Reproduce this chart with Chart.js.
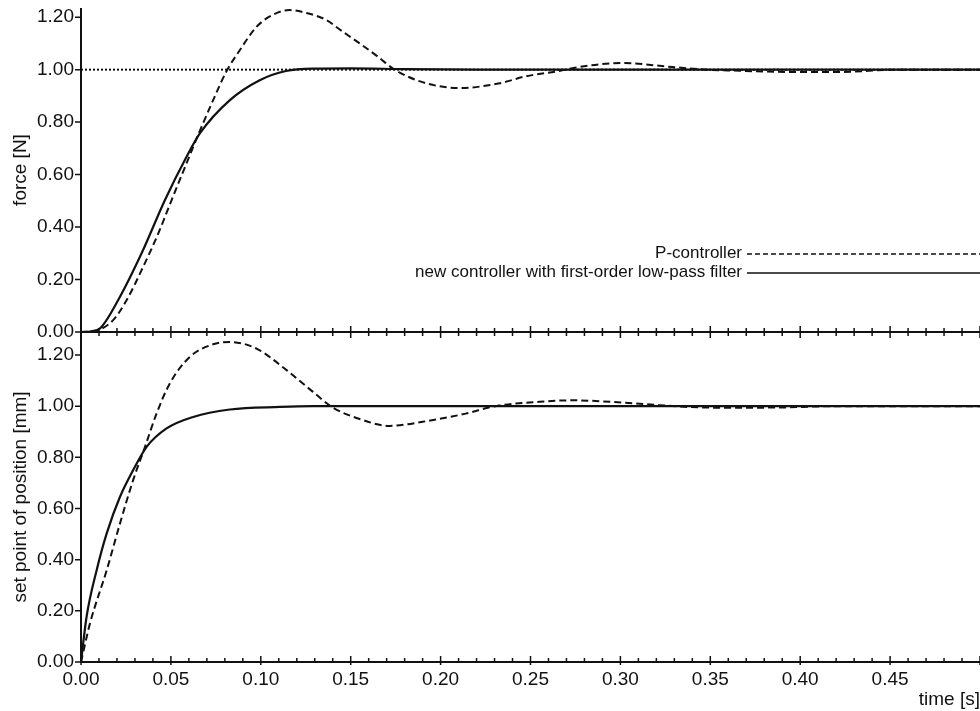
<!DOCTYPE html>
<html>
<head>
<meta charset="utf-8">
<script src="https://cdn.jsdelivr.net/npm/chart.js@4.4.1/dist/chart.umd.min.js"></script>
<style>
html, body { margin: 0; padding: 0; background: #fff; }
#wrap { position: relative; width: 980px; height: 711px; }
</style>
</head>
<body>
<div id="wrap"><canvas id="step-chart" width="980" height="711"></canvas></div>
<script>
// values (time in s)
const forcePT = [0, 0.005, 0.0106, 0.018, 0.0254, 0.0346, 0.043, 0.0504, 0.0585, 0.0655, 0.0735, 0.081, 0.0883, 0.0976, 0.107, 0.116, 0.126, 0.1365, 0.1439, 0.155, 0.165, 0.1744, 0.192, 0.2106, 0.2328, 0.2476, 0.266, 0.277, 0.301, 0.329, 0.348, 0.36, 0.40, 0.42, 0.455, 0.5]
const forcePV = [0, 0.002, 0.01, 0.046, 0.122, 0.249, 0.376, 0.503, 0.64, 0.757, 0.884, 0.995, 1.074, 1.163, 1.21, 1.227, 1.215, 1.189, 1.153, 1.10, 1.05, 1.0, 0.948, 0.93, 0.948, 0.975, 0.995, 1.01, 1.025, 1.01, 1.0, 0.997, 0.991, 0.991, 1.0, 1.0]

const forceNewT = [0, 0.005, 0.0106, 0.0207, 0.0337, 0.0467, 0.0587, 0.0661, 0.0828, 0.0994, 0.114, 0.13, 0.15, 0.18, 0.22, 0.5]
const forceNewV = [0, 0.002, 0.014, 0.122, 0.30, 0.503, 0.668, 0.757, 0.884, 0.96, 0.995, 1.004, 1.005, 1.002, 1.0, 1.0]

const posPT = [0, 0.005, 0.0143, 0.0217, 0.029, 0.0356, 0.042, 0.0494, 0.0606, 0.0735, 0.0828, 0.0976, 0.1143, 0.129, 0.140, 0.155, 0.1717, 0.190, 0.214, 0.2304, 0.255, 0.2735, 0.301, 0.3217, 0.338, 0.357, 0.39, 0.418, 0.5]
const posPV = [0, 0.151, 0.359, 0.542, 0.711, 0.841, 0.971, 1.089, 1.193, 1.242, 1.251, 1.225, 1.141, 1.056, 0.995, 0.950, 0.923, 0.939, 0.971, 1.0, 1.017, 1.023, 1.014, 1.004, 0.997, 0.994, 0.995, 1.0, 1.0]

const posNewT = [0, 0.0031, 0.0087, 0.0143, 0.0217, 0.029, 0.0365, 0.0476, 0.0624, 0.0828, 0.1106, 0.129, 0.5]
const posNewV = [0, 0.177, 0.359, 0.503, 0.646, 0.75, 0.841, 0.913, 0.958, 0.987, 0.997, 1.0, 1.0]

const setPointT = [0, 0.5]
const setPointV = [1, 1]

const seriesLabels = ['P-controller', 'new controller with first-order low-pass filter']
const xTickLabels = ['0.00', '0.05', '0.10', '0.15', '0.20', '0.25', '0.30', '0.35', '0.40', '0.45']
const yTickValues = [0, 0.1, 0.2, 0.3, 0.4, 0.5, 0.6, 0.7, 0.8, 0.9, 1.0, 1.1, 1.2]
const yTickLabels = ['0.00', '0.20', '0.40', '0.60', '0.80', '1.00', '1.20']

const FONT = '"Liberation Sans", Arial, Helvetica, sans-serif'
const INK = '#111'

const pts = (t, v) => t.map((x, i) => ({ x: x, y: v[i] }))

const isStep = (v, step) => Math.abs(v / step - Math.round(v / step)) < 1e-6

// axis lines, inner/outer tick marks and the right-hand legend
const framePlugin = {
    id: 'frame',
    afterDraw(chart, args, opts) {
        const ctx = chart.ctx
        const x = chart.scales.x
        const yF = chart.scales.yF
        const yP = chart.scales.yP
        const area = chart.chartArea
        const mid = yF.bottom
        const bottom = yP.bottom

        ctx.save()
        ctx.strokeStyle = INK
        ctx.lineWidth = 2
        ctx.beginPath()
        ctx.moveTo(area.left, yF.top)
        ctx.lineTo(area.left, bottom)
        ctx.moveTo(area.left, mid)
        ctx.lineTo(area.right, mid)
        ctx.moveTo(area.left, bottom)
        ctx.lineTo(area.right, bottom)
        ctx.stroke()

        ctx.lineWidth = 1.5
        ctx.beginPath()
        for (const s of [yF, yP]) {
            s.ticks.forEach(t => {
                const py = s.getPixelForValue(t.value)
                const len = isStep(t.value, 0.2) ? 6 : 3
                ctx.moveTo(area.left - len, py)
                ctx.lineTo(area.left, py)
            })
        }
        x.ticks.forEach(t => {
            const px = x.getPixelForValue(t.value)
            const major = isStep(t.value, 0.05)
            const len = major ? 6 : 4
            ctx.moveTo(px, mid - len)
            ctx.lineTo(px, mid + len)
            ctx.moveTo(px, bottom - len)
            ctx.lineTo(px, bottom + (major ? 3 : 0))
        })
        ctx.stroke()

        // legend
        ctx.font = opts.fontSize + 'px ' + FONT
        ctx.fillStyle = INK
        ctx.textAlign = 'right'
        ctx.textBaseline = 'middle'
        opts.datasets.forEach((di, i) => {
            const ds = chart.data.datasets[di]
            const ry = opts.rows[i]
            ctx.fillText(ds.label, opts.textRight, ry)
            ctx.beginPath()
            ctx.lineWidth = 1.7
            ctx.setLineDash(ds.borderDash.length ? [5, 3] : [])
            ctx.moveTo(opts.lineStart, ry + 1)
            ctx.lineTo(area.right, ry + 1)
            ctx.stroke()
        })
        ctx.restore()
    }
}

const lineStyle = (dashed) => ({
    borderColor: INK,
    borderWidth: dashed ? 2 : 2.2,
    borderDash: dashed ? [7, 4] : [],
    pointRadius: 0,
    cubicInterpolationMode: 'monotone',
    fill: false
})

const yAxis = (max, weight, title) => ({
    type: 'linear',
    position: 'left',
    stack: 'panels',
    stackWeight: weight,
    min: 0,
    max: max,
    grid: { display: false, drawTicks: false, tickLength: 0 },
    border: { display: false },
    afterBuildTicks: s => { s.ticks = yTickValues.map(v => ({ value: v })) },
    ticks: {
        color: INK,
        padding: 7,
        font: { size: 19 },
        callback: v => yTickLabels.includes(v.toFixed(2)) && isStep(v, 0.2) ? v.toFixed(2) : ''
    },
    title: {
        display: true,
        text: title,
        color: INK,
        font: { size: 19 },
        padding: { top: 9, bottom: 0 }
    },
    afterFit: s => { s.width = 81; s.paddingTop = 0; s.paddingBottom = 0 }
})

Chart.defaults.font.family = FONT

const chart = new Chart(document.getElementById('step-chart'), {
    type: 'line',
    data: {
        datasets: [
            Object.assign({ label: seriesLabels[0], data: pts(forcePT, forcePV), yAxisID: 'yF', order: 1 }, lineStyle(true)),
            Object.assign({ label: seriesLabels[1], data: pts(forceNewT, forceNewV), yAxisID: 'yF', order: 0 }, lineStyle(false)),
            Object.assign({ label: seriesLabels[0], data: pts(posPT, posPV), yAxisID: 'yP', order: 1 }, lineStyle(true)),
            Object.assign({ label: seriesLabels[1], data: pts(posNewT, posNewV), yAxisID: 'yP', order: 0 }, lineStyle(false)),
            {
                label: 'set point',
                data: pts(setPointT, setPointV),
                yAxisID: 'yF',
                order: 2,
                borderColor: INK,
                borderWidth: 2,
                borderDash: [2, 2],
                pointRadius: 0,
                fill: false
            }
        ]
    },
    options: {
        responsive: false,
        animation: false,
        devicePixelRatio: 1,
        layout: { padding: { top: 8, right: 0, left: 0, bottom: 0 } },
        plugins: {
            legend: { display: false },
            tooltip: { enabled: false },
            frame: { fontSize: 17, textRight: 742, lineStart: 747, rows: [253, 272], datasets: [0, 1] }
        },
        scales: {
            x: {
                type: 'linear',
                position: 'bottom',
                min: 0,
                max: 0.5,
                grid: { display: false, drawTicks: false, tickLength: 0 },
                border: { display: false },
                ticks: {
                    stepSize: 0.01,
                    autoSkip: false,
                    maxRotation: 0,
                    color: INK,
                    padding: 6,
                    font: { size: 19 },
                    callback: v => xTickLabels.includes(v.toFixed(2)) && isStep(v, 0.05) ? v.toFixed(2) : ''
                },
                title: {
                    display: true,
                    text: 'time [s]',
                    align: 'end',
                    color: INK,
                    font: { size: 19 },
                    padding: { top: 0, bottom: 0 }
                },
                afterFit: s => { s.height = 49; s.paddingRight = 0; s.paddingLeft = 0 }
            },
            yP: yAxis(1.29, 330, 'set point of position [mm]'),
            yF: yAxis(1.235, 324, 'force [N]')
        }
    },
    plugins: [framePlugin]
})
</script>
</body>
</html>
